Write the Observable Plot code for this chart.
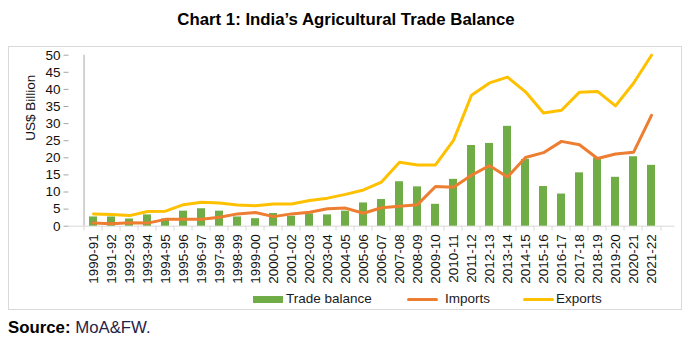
<!DOCTYPE html>
<html>
<head>
<meta charset="utf-8">
<script src="https://cdn.jsdelivr.net/npm/d3@7"></script>
<script src="https://cdn.jsdelivr.net/npm/@observablehq/plot@0.6"></script>
<style>
  html, body { margin: 0; padding: 0; background: #fff; }
  body { width: 692px; height: 343px; position: relative; overflow: hidden; font-family: "Liberation Sans", Arial, sans-serif; color: #1a1a1a; }
  #title { position: absolute; left: 0; top: 10px; width: 692px; text-align: center; font-weight: bold; font-size: 16.8px; line-height: 19px; color: #000; }
  #frame { position: absolute; left: 8px; top: 46px; width: 674px; height: 264px; border: 1px solid #d9d9d9; box-sizing: border-box; }
  #chart { position: absolute; left: 0; top: 0; }
  .lg { position: absolute; top: 291px; font-size: 13.5px; line-height: 16px; color: #1a1a1a; white-space: nowrap; }
  .sw { position: absolute; }
  #source { position: absolute; left: 8px; top: 318px; font-size: 16.8px; line-height: 19px; }
  #source b { color: #000; }
  #source span { color: #1f2347; }
</style>
</head>
<body>
<div id="title">Chart 1: India’s Agricultural Trade Balance</div>
<div id="frame"><div id="chart"></div></div>
<div class="sw" style="left:253px; top:296px; width:30px; height:7px; background:#70AD47;"></div>
<div class="lg" style="left:286px;">Trade balance</div>
<div class="sw" style="left:407px; top:298px; width:31px; height:3px; background:#ED7D31; border-radius:1.5px;"></div>
<div class="lg" style="left:445px;">Imports</div>
<div class="sw" style="left:523px; top:298px; width:31px; height:3px; background:#FFC000; border-radius:1.5px;"></div>
<div class="lg" style="left:556px;">Exports</div>
<div id="source"><b>Source:</b> <span>MoA&amp;FW.</span></div>
<script>
const years = ["1990-91","1991-92","1992-93","1993-94","1994-95","1995-96","1996-97","1997-98","1998-99","1999-00",
  "2000-01","2001-02","2002-03","2003-04","2004-05","2005-06","2006-07","2007-08","2008-09","2009-10",
  "2010-11","2011-12","2012-13","2013-14","2014-15","2015-16","2016-17","2017-18","2018-19","2019-20",
  "2020-21","2021-22"];
const tradeBalance = [2.7, 2.7, 2.1, 3.3, 2.1, 4.4, 5.1, 4.4, 2.7, 2.2,
  3.7, 2.9, 3.6, 3.3, 4.4, 6.8, 7.8, 13.0, 11.5, 6.4,
  13.7, 23.6, 24.2, 29.2, 19.5, 11.6, 9.4, 15.6, 19.9, 14.3,
  20.3, 17.8];
const imports = [0.9, 0.7, 1.0, 0.9, 2.0, 2.0, 2.0, 2.6, 3.6, 4.0,
  2.8, 3.6, 4.1, 5.1, 5.3, 3.8, 5.4, 5.8, 6.3, 11.6,
  11.4, 14.9, 17.7, 14.4, 20.1, 21.5, 24.8, 23.8, 19.8, 21.1,
  21.6, 32.4];
const exportsV = [3.6, 3.4, 3.1, 4.3, 4.4, 6.3, 7.0, 6.8, 6.2, 6.0,
  6.5, 6.5, 7.5, 8.2, 9.3, 10.6, 12.9, 18.7, 17.9, 17.9,
  25.1, 38.3, 41.9, 43.6, 39.3, 33.1, 33.9, 39.2, 39.4, 35.2,
  41.8, 50.0];
const yTicks = [0, 5, 10, 15, 20, 25, 30, 35, 40, 45, 50];

const data = years.map((y, i) => ({year: y, balance: tradeBalance[i], imports: imports[i], exports: exportsV[i]}));

const W = 672, H = 240, mL = 59.5, mR = 6.5;
const halfStep = (W - mL - mR) / years.length / 2;

const chart = Plot.plot({
  width: W,
  height: H,
  marginLeft: mL,
  marginRight: mR,
  marginTop: 7.7,
  marginBottom: H - 178.7,
  style: {fontFamily: "'Liberation Sans', Arial, sans-serif", fontSize: "13.5px", color: "#111", background: "transparent"},
  x: {domain: years, paddingInner: 0.58, paddingOuter: 0.29, tickRotate: -90, tickSize: 0, tickPadding: 8, label: null},
  y: {domain: [0, 50], ticks: yTicks, tickSize: 5, tickPadding: 3.5, label: null},
  marks: [
    Plot.ruleX([years[0]], {x: d => d, dx: -halfStep, y1: 0, y2: 50, stroke: "#a6a6a6", strokeWidth: 1}),
    Plot.ruleY([0], {stroke: "#d9d9d9", strokeWidth: 1}),
    Plot.ruleX(years, {x: d => d, dx: -halfStep, y1: 0, y2: 0, insetBottom: -5, stroke: "#d9d9d9"}),
    Plot.ruleX([years[years.length - 1]], {x: d => d, dx: halfStep, y1: 0, y2: 0, insetBottom: -5, stroke: "#d9d9d9"}),
    Plot.barY(data, {x: "year", y: "balance", fill: "#70AD47"}),
    Plot.line(data, {x: "year", y: "imports", stroke: "#ED7D31", strokeWidth: 3, strokeLinejoin: "round", strokeLinecap: "round"}),
    Plot.line(data, {x: "year", y: "exports", stroke: "#FFC000", strokeWidth: 3, strokeLinejoin: "round", strokeLinecap: "round"}),
    Plot.text(["US$ Billion"], {frameAnchor: "left", rotate: -90, dx: -38, fill: "#111", fontSize: 13.5})
  ]
});
document.getElementById("chart").appendChild(chart);
// grey tick marks on the y axis
d3.select(chart).selectAll('[aria-label^="y-axis"] line, [aria-label^="y-axis"] path').attr("stroke", "#a6a6a6");
</script>
</body>
</html>
